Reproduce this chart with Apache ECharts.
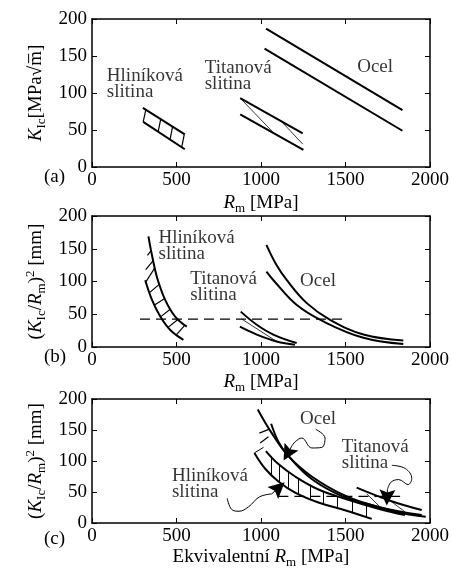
<!DOCTYPE html>
<html>
<head>
<meta charset="utf-8">
<script src="https://cdn.jsdelivr.net/npm/echarts@6/dist/echarts.min.js"></script>
<style>
html, body { margin: 0; padding: 0; background: #fff; }
#container { width: 452px; height: 570px; }
</style>
</head>
<body>
<div id="container"></div>
<script>
// osy
var xMax = 2000, xStep = 500;
var yMax = 200, yStep = 50;
var panelNames = ['(a)', '(b)', '(c)'];

// (a) K_Ic vs Rm
var aAlHorni = [[301, 80], [549, 44]];
var aAlDolni = [[303, 61], [549, 24]];
var aAlSrafy = [[[303, 61], [318, 77]], [[392, 48], [407, 65]], [[462, 37], [477, 55]], [[531, 27], [546, 44]]];
var aTiHorni = [[877, 93], [1247, 45.5]];
var aTiDolni = [[877, 71], [1251, 23]];
var aTiTenke = [[[877, 93], [1071, 47]], [[1119, 62], [1247, 31]]];
var aOcelHorni = [[1030, 187], [1837, 77]];
var aOcelDolni = [[1021, 160], [1837, 49]];
var aPopisky = [['Hliníková\nslitina', 88, 111.5], ['Titanová\nslitina', 667, 123], ['Ocel', 1569, 134.5]];

// (b) (K_Ic/Rm)^2 vs Rm
var bAlHorni = [[334, 169], [355, 140], [384, 107], [433, 72], [492, 46.5], [561, 31]];
var bAlDolni = [[315, 102], [355, 72], [404, 46.5], [463, 26], [541, 11]];
var bAlSrafy = [[[318, 99], [372, 121]], [[340, 83], [400, 96]], [[370, 64], [430, 74]], [[405, 46], [465, 58]],
                [[450, 30], [510, 42.5]], [[500, 19], [550, 33.5]], [[318, 118], [362, 132]], [[328, 140], [350, 147]]];
var bTiHorni = [[880, 54], [975, 34], [1073, 19], [1211, 6]];
var bTiDolni = [[875, 31], [975, 19], [1093, 8.5], [1201, 3.5]];
var bTiTenke = [[[884, 43], [1101, 7]]];
var bOcelHorni = [[1032, 156], [1090, 126], [1153, 102], [1271, 67], [1409, 41.5], [1606, 19], [1842, 10]];
var bOcelDolni = [[1032, 115], [1080, 100], [1212, 64], [1369, 39], [1606, 14], [1842, 4.5]];
var bCarkovana = [[284, 42.5], [1514, 42.5]];
var bPopisky = [['Hliníková\nslitina', 394, 154], ['Titanová\nslitina', 581, 92], ['Ocel', 1231, 100.8]];

// (c) (K_Ic/Rm)^2 vs ekvivalentni Rm
var cOcelHorni = [[981, 183], [1054, 149], [1162, 108], [1300, 75], [1498, 44], [1694, 26], [1951, 13]];
var cOcelDolni = [[1060, 160], [1103, 131], [1153, 111], [1300, 71], [1498, 41], [1700, 24], [1840, 15]];
var cOcelSrafy = [[[990, 145], [1046, 151]], [[995, 129], [1044, 139]]];
var cAlDolni = [[961, 113], [1025, 87.5], [1103, 67], [1202, 49], [1340, 33], [1497, 20.6], [1655, 6.6]];
var cAlHorni = [[1029, 116], [1103, 95], [1202, 75], [1340, 54], [1497, 39], [1694, 23], [1852, 12.8]];
var cAlSrafy = [[[961, 113], [1015, 122]], [[1060, 78], [1060, 107]], [[1110, 66], [1110, 94]], [[1160, 57], [1160, 84]],
                [[1220, 47], [1220, 72]], [[1290, 39], [1290, 62]], [[1370, 31], [1370, 51]], [[1450, 24], [1450, 43.5]],
                [[1540, 17], [1540, 35.5]], [[1620, 10], [1620, 29]]];
var cTiHorni = [[1566, 57], [1764, 36], [1951, 21]];
var cTiDolni = [[1600, 33], [1750, 22], [1850, 15], [1975, 10]];
var cTiTenke = [[[1626, 47], [1704, 26]], [[1764, 36], [1852, 18]]];
var cCarkovana = [[1103, 43], [1823, 43]];
var cOcelOcasek = [[1324, 151], [1379, 137], [1360, 122], [1301, 121], [1241, 137], [1202, 131], [1182, 124]];
var cOcelSipka = [[1182, 124], [1157, 112]];
var cAlOcasek = [[800, 40], [826, 22], [870, 19], [926, 26], [990, 42], [1064, 47]];
var cAlSipka = [[1064, 47], [1105, 57]];
var cTiOcasek = [[1774, 93], [1853, 88], [1892, 72], [1870, 62], [1815, 70], [1770, 66], [1748, 54]];
var cTiSipka = [[1748, 54], [1746, 41]];
var cPopisky = [['Ocel', 1231, 167.5], ['Titanová\nslitina', 1478, 110], ['Hliníková\nslitina', 473, 63]];

var F = 'Liberation Serif';
var rich = {
    n: { fontFamily: F, fontSize: 19, color: '#000' },
    i: { fontFamily: F, fontSize: 19, fontStyle: 'italic', color: '#000' },
    s: { fontFamily: F, fontSize: 13, color: '#000', padding: [11, 0, 0, 0] },
    p: { fontFamily: F, fontSize: 13, color: '#000', padding: [0, 0, 11, 0] }
};
var grids = [
    { left: 92, top: 19, width: 339, height: 148 },
    { left: 92, top: 216, width: 338, height: 131 },
    { left: 92, top: 399, width: 338, height: 129 }
];
var xNames = ['{i|R}{s|m}{n| [MPa]}', '{i|R}{s|m}{n| [MPa]}', '{n|Ekvivalentní }{i|R}{s|m}{n| [MPa]}'];
var yNames = ['{i|K}{s|Ic}{n|[MPa√m\u0305]}', '{n|(}{i|K}{s|Ic}{n|/}{i|R}{s|m}{n|)}{p|2}{n| [mm]}', '{n|(}{i|K}{s|Ic}{n|/}{i|R}{s|m}{n|)}{p|2}{n| [mm]}'];
var xGaps = [24, 23, 22];

var xAxes = [], yAxes = [], titles = [], series = [];
function osa(i, pos, max, step, showLabels) {
    return {
        type: 'value', gridIndex: i, position: pos, min: 0, max: max, interval: step,
        axisLine: { show: true, onZero: false, lineStyle: { color: '#000', width: 1.5 } },
        axisTick: { show: true, inside: true, length: 5, lineStyle: { color: '#000', width: 1 } },
        axisLabel: { show: showLabels, color: '#000', fontFamily: F, fontSize: 19, margin: 4,
            showMinLabel: true, showMaxLabel: true, formatter: function (v) { return String(v); } },
        splitLine: { show: false }
    };
}
for (var i = 0; i < 3; i++) {
    var xb = osa(i, 'bottom', xMax, xStep, true);
    xb.name = xNames[i]; xb.nameLocation = 'middle'; xb.nameGap = xGaps[i];
    xb.nameTextStyle = { rich: rich };
    var yl = osa(i, 'left', yMax, yStep, true);
    yl.axisLabel.margin = 5;
    yl.name = yNames[i]; yl.nameLocation = 'middle'; yl.nameGap = 33; yl.nameRotate = 90;
    yl.nameTextStyle = { rich: rich };
    xAxes[i] = xb; yAxes[i] = yl;
    xAxes[i + 3] = osa(i, 'top', xMax, xStep, false);
    yAxes[i + 3] = osa(i, 'right', yMax, yStep, false);
    titles.push({ text: panelNames[i], left: 44, top: [168, 348, 530][i], padding: 0,
        textStyle: { fontFamily: F, fontSize: 19, fontWeight: 'normal', color: '#000' } });
}

function krivka(p, data, width, dash) {
    series.push({
        type: 'line', xAxisIndex: p, yAxisIndex: p, data: data, showSymbol: false, silent: true,
        smooth: data.length > 2 ? 0.4 : false,
        lineStyle: { color: '#000', width: width, type: dash || 'solid' }
    });
}
function useky(p, segs, width) {
    series.push({
        type: 'lines', coordinateSystem: 'cartesian2d', xAxisIndex: p, yAxisIndex: p, silent: true,
        data: segs.map(function (s) { return { coords: s }; }),
        lineStyle: { color: '#000', width: width, opacity: 1, curveness: 0 }
    });
}
function sipka(p, seg) {
    series.push({
        type: 'lines', coordinateSystem: 'cartesian2d', xAxisIndex: p, yAxisIndex: p, silent: true,
        data: [{ coords: seg }],
        symbol: ['none', 'path://M5,0 L10,16 L5,13 L0,16 Z'], symbolSize: 16, symbolKeepAspect: true,
        lineStyle: { color: '#000', width: 1, opacity: 1 },
        itemStyle: { color: '#000' }
    });
}
function popisky(p, list) {
    series.push({
        type: 'scatter', xAxisIndex: p, yAxisIndex: p, symbolSize: 0, silent: true,
        data: list.map(function (d) { return { name: d[0], value: [d[1], d[2]] }; }),
        label: { show: true, formatter: '{b}', position: 'right', distance: 0,
            fontFamily: F, fontSize: 19, lineHeight: 16, color: '#000' }
    });
}

// (a)
krivka(0, aAlHorni, 2); krivka(0, aAlDolni, 2); useky(0, aAlSrafy, 1.2);
krivka(0, aTiHorni, 2); krivka(0, aTiDolni, 2); useky(0, aTiTenke, 0.8);
krivka(0, aOcelHorni, 2); krivka(0, aOcelDolni, 2);
popisky(0, aPopisky);
// (b)
krivka(1, bAlHorni, 2); krivka(1, bAlDolni, 2); useky(1, bAlSrafy, 1.2);
krivka(1, bTiHorni, 2); krivka(1, bTiDolni, 2); useky(1, bTiTenke, 0.8);
krivka(1, bOcelHorni, 2); krivka(1, bOcelDolni, 2);
krivka(1, bCarkovana, 1.2, [10, 6]);
popisky(1, bPopisky);
// (c)
krivka(2, cOcelHorni, 2); krivka(2, cOcelDolni, 2); useky(2, cOcelSrafy, 1.2);
krivka(2, cAlDolni, 2); krivka(2, cAlHorni, 2); useky(2, cAlSrafy, 1);
krivka(2, cTiHorni, 2); krivka(2, cTiDolni, 2); useky(2, cTiTenke, 0.8);
krivka(2, cCarkovana, 1.2, [10, 6]);
krivka(2, cOcelOcasek, 1); sipka(2, cOcelSipka);
krivka(2, cAlOcasek, 1); sipka(2, cAlSipka);
krivka(2, cTiOcasek, 1); sipka(2, cTiSipka);
popisky(2, cPopisky);

var chart = echarts.init(document.getElementById('container'));
chart.setOption({
    animation: false,
    title: titles,
    grid: grids,
    xAxis: xAxes,
    yAxis: yAxes,
    series: series
});
</script>
</body>
</html>
